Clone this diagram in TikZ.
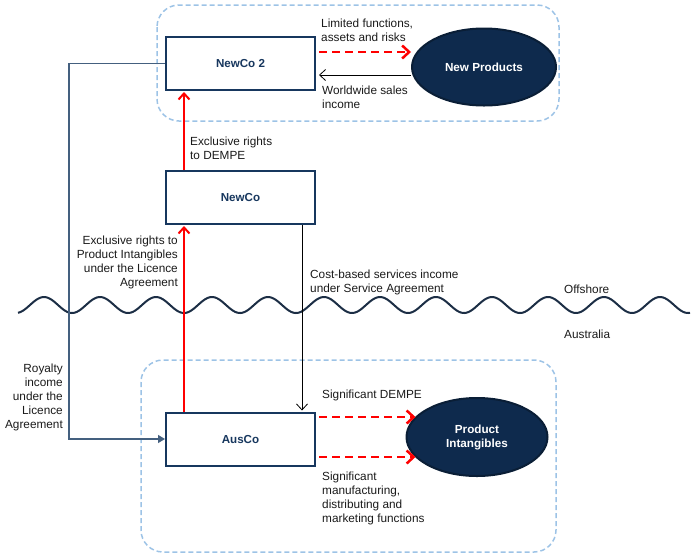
\documentclass[tikz,border=0pt]{standalone}
\usepackage{fontspec}
\setmainfont{Liberation Sans}
\usetikzlibrary{arrows.meta,shapes.geometric}
\definecolor{boxnavy}{HTML}{17375E}
\definecolor{ellfill}{HTML}{0E2A4D}
\definecolor{elledge}{HTML}{0A1E36}
\definecolor{contblue}{HTML}{9DC3E6}
\definecolor{royline}{HTML}{44607F}
\definecolor{wavecol}{HTML}{1C2E45}
\definecolor{txt}{HTML}{1A1A1A}
\begin{document}
\begin{tikzpicture}[x=1pt,y=-1pt,
  font=\fontsize{11.8}{14}\selectfont,
  entity/.style={draw=boxnavy, line width=2pt, fill=white, minimum width=149pt, minimum height=53pt, inner sep=0pt,
    font=\fontsize{11.6}{14}\selectfont\bfseries, text=boxnavy},
  asset/.style={ellipse, draw=elledge, line width=2pt, fill=ellfill, inner sep=0pt,
    font=\fontsize{11.7}{14}\selectfont\bfseries, text=white, align=center},
  container/.style={draw=contblue, line width=1.5pt, dash pattern=on 5pt off 3pt, rounded corners=22pt},
  lbl/.style={inner sep=0pt, text=txt},
  redflow/.style={draw=red, line width=2pt, -{Straight Barb[length=6pt,width=11pt,line width=2pt]}},
  reddash/.style={draw=red, line width=2.5pt, dash pattern=on 8pt off 5pt, -{Straight Barb[length=7pt,width=13pt,line width=2.5pt]}},
  blackflow/.style={draw=black, line width=0.8pt, -{Straight Barb[length=6pt,width=11pt,line width=0.8pt]}},
  royflow/.style={draw=royline, line width=1.2pt, -{Triangle[length=7pt,width=8pt]}}
]
\useasboundingbox (0,0) rectangle (695,558);

% containers
\draw[container] (157,5) rectangle (559,121);
\draw[container] (141,360) rectangle (556,552);

% wave
\draw[wavecol, line width=2pt] plot[domain=18:690, samples=400, smooth] (\x, {305 - 8*sin((\x-30)*6.42857)});

% nodes
\node[entity] (n2) at (240.5,63.5) {NewCo 2};
\node[entity] (newco) at (240.5,197.5) {NewCo};
\node[entity] (ausco) at (240.5,439) {AusCo};
\node[asset, minimum width=144pt, minimum height=77pt] (np) at (484,67) {New Products};
\node[asset, minimum width=141pt, minimum height=78pt] (pi) at (477,437) {Product\\Intangibles};

% connectors
\draw[reddash, shorten <=3pt] ([yshift=11.5pt]n2.east) -- ([yshift=11.5pt]n2.east -| np.west);
\draw[blackflow, shorten >=3pt] ([yshift=-8pt]np.west) -- ([yshift=-11.5pt]n2.east);
\draw[redflow, shorten >=1pt] ([xshift=19pt]newco.north west) -- ([xshift=19pt]n2.south west);
\draw[redflow, shorten >=1pt] ([xshift=19pt]ausco.north west) -- ([xshift=19pt]newco.south west);
\draw[blackflow, shorten >=1pt] ([xshift=-14pt]newco.south east) -- ([xshift=-14pt]ausco.north east);
\draw[royflow] (n2.west) -- ++(-96,0) |- (ausco.west);
\draw[reddash, shorten <=3pt] ([yshift=22pt]ausco.east) -- ([yshift=22pt,xshift=10pt]ausco.east -| pi.west);
\draw[reddash, shorten <=3pt] ([yshift=-18pt]ausco.east) -- ([yshift=-18pt,xshift=10pt]ausco.east -| pi.west);

% labels
\node[lbl, anchor=west, align=left] (l1) at (321,30) {Limited functions,\\assets and risks};
\node[lbl, anchor=west, align=left] (l2) at (322,97) {Worldwide sales\\income};
\node[lbl, anchor=west, align=left] (l3) at (190,148) {Exclusive rights\\to DEMPE};
\node[lbl, anchor=east, align=right] (l4) at (178,262) {Exclusive rights to\\Product Intangibles\\under the Licence\\Agreement};
\node[lbl, anchor=west, align=left] (l5) at (310,282) {Cost-based services income\\under Service Agreement};
\node[lbl, anchor=west] (l6) at (564,289) {Offshore};
\node[lbl, anchor=west] (l7) at (564,334) {Australia};
\node[lbl, anchor=east, align=right] (l8) at (63,397) {Royalty\\income\\under the\\Licence\\Agreement};
\node[lbl, anchor=west] (l9) at (322,395) {Significant DEMPE};
\node[lbl, anchor=west, align=left] (l10) at (322,498) {Significant\\manufacturing,\\distributing and\\marketing functions};
\end{tikzpicture}
\end{document}
